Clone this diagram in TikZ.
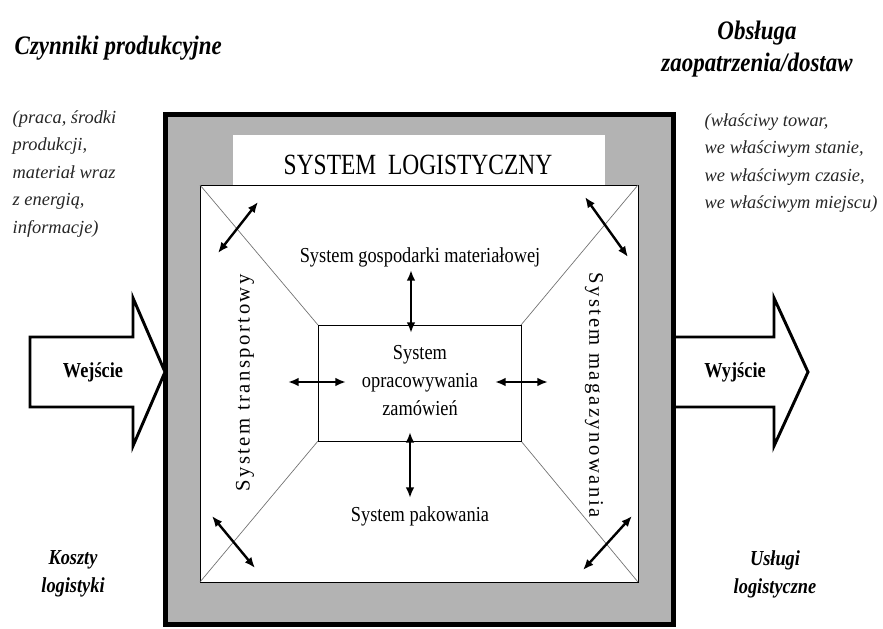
\documentclass[tikz,border=0pt]{standalone}
\usepackage{fontspec}
\setmainfont{Liberation Serif}
\newfontfamily\narrowrm{Liberation Serif}[FakeStretch=0.86]
\newfontfamily\titlerm{Liberation Serif}[FakeStretch=0.8]
\newfontfamily\spacedrm{Liberation Serif}[LetterSpace=12]
\usetikzlibrary{arrows.meta}
\definecolor{framegray}{HTML}{B3B3B3}
\definecolor{diaggray}{HTML}{707070}

\tikzset{
  dblarrow/.style={{Latex[length=8pt,width=6.5pt]}-{Latex[length=8pt,width=6.5pt]}, line width=1.8pt},
  sysfont/.style={font=\narrowrm\fontsize{16}{21}\selectfont, align=center},
  headfont/.style={font=\narrowrm\bfseries\itshape\fontsize{20}{24}\selectfont, align=center},
  costfont/.style={font=\narrowrm\bfseries\itshape\fontsize{16}{21}\selectfont, align=center},
  boldfont/.style={font=\narrowrm\bfseries\fontsize{16}{21}\selectfont},
  notefont/.style={font=\itshape\fontsize{13.8}{20.6}\selectfont, align=left, anchor=west, black!85},
  sidefont/.style={font=\spacedrm\fontsize{15.5}{18}\selectfont},
  bigarrow/.style={draw, line width=2.2pt, fill=white, miter limit=20},
}

\begin{document}
\begin{tikzpicture}[x=0.75pt,y=-0.75pt]
  \useasboundingbox (0,0) rectangle (883,629);
  % frame of the system
  \draw[line width=3.8pt, fill=framegray] (165.5,114.5) rectangle (673.5,624.5);
  \fill[white] (233,135) rectangle (605,185);
  \node (title) at (418,165) {\titlerm\fontsize{22}{26}\selectfont SYSTEM\ \ LOGISTYCZNY};
  \draw[line width=0.6pt, fill=white] (200,185) rectangle (638,582);
  \draw[diaggray, line width=0.5pt] (200,185) -- (318,325) (638,185) -- (521,325)
    (200,582) -- (318,441) (638,582) -- (521,441);
  \draw[line width=0.6pt] (318,325) rectangle (521,441);

  % input and output
  \draw[bigarrow] (30,337) -- (133,337) -- (133,298) -- (165,372) -- (133,446) -- (133,407) -- (30,407) -- cycle;
  \draw[bigarrow] (676,337) -- (774,337) -- (774,298) -- (808,372) -- (774,446) -- (774,407) -- (676,407);
  \node[boldfont] (wejscie) at (93,372) {Wejście};
  \node[boldfont] (wyjscie) at (735,372) {Wyjście};

  % subsystems
  \node[sysfont] (gospodarka) at (420,257) {System gospodarki materiałowej};
  \node[sysfont] (zamowienia) at (420,381) {System\\opracowywania\\zamówień};
  \node[sysfont] (pakowanie) at (420,516) {System pakowania};
  \node[sidefont, rotate=90] (transport) at (245,383) {System transportowy};
  \node[sidefont, rotate=-90] (magazyn) at (594,395) {System magazynowania};

  % exchanges
  \coordinate (tl1) at (218,253); \coordinate (tl2) at (258,202);
  \coordinate (tr1) at (585,197); \coordinate (tr2) at (628,257);
  \coordinate (bl1) at (212,516); \coordinate (bl2) at (255,568);
  \coordinate (br1) at (583,570); \coordinate (br2) at (632,516);
  \coordinate (up1) at (411,270); \coordinate (up2) at (411,333);
  \coordinate (dn1) at (410,432); \coordinate (dn2) at (410,498);
  \coordinate (lf1) at (288,382); \coordinate (lf2) at (346,382);
  \coordinate (rt1) at (495,382); \coordinate (rt2) at (548,382);
  \foreach \a in {tl,tr,bl,br,up,dn,lf,rt}
    \draw[dblarrow] (\a1) -- (\a2);

  % descriptions
  \node[headfont, anchor=west] (czynniki) at (10,48) {Czynniki produkcyjne};
  \node[notefont] (czynnikiopis) at (8,174) {(praca, środki\\produkcji,\\materiał wraz\\z energią,\\informacje)};
  \node[headfont] (obsluga) at (757,49) {Obsługa\\zaopatrzenia/dostaw};
  \node[notefont] (obslugaopis) at (700,163) {(właściwy towar,\\we właściwym stanie,\\we właściwym czasie,\\we właściwym miejscu)};
  \node[costfont] (koszty) at (73,574) {Koszty\\logistyki};
  \node[costfont] (uslugi) at (775,574) {Usługi\\logistyczne};
\end{tikzpicture}
\end{document}
